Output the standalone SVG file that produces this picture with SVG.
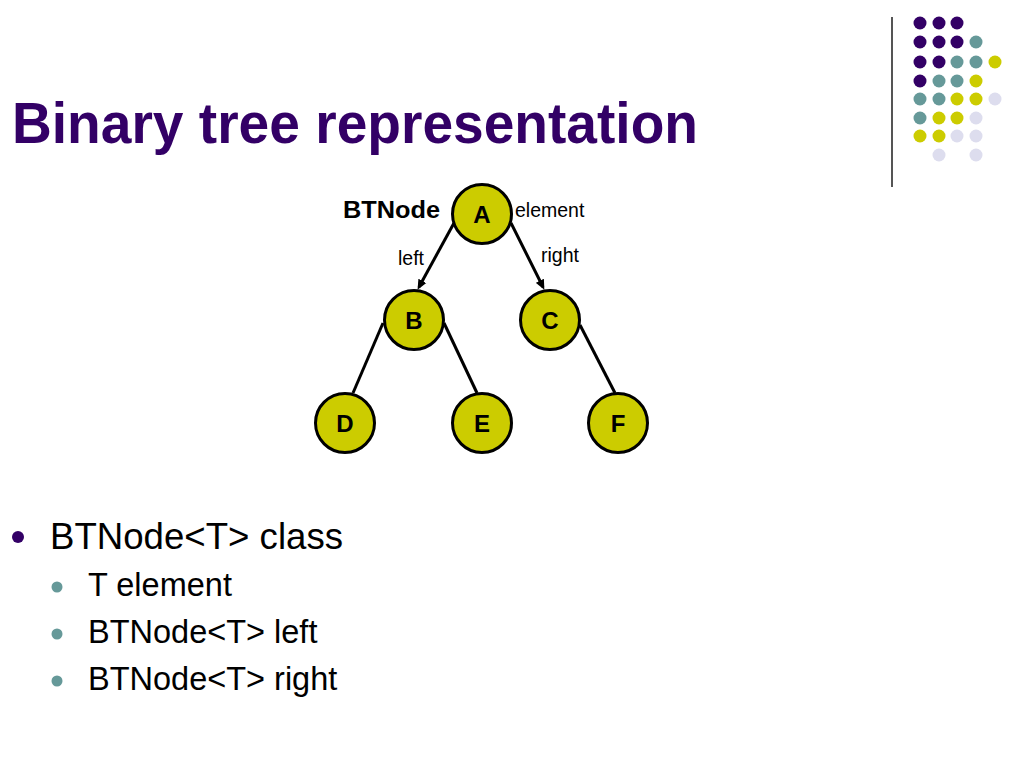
<svg xmlns="http://www.w3.org/2000/svg" width="1024" height="768" viewBox="0 0 1024 768">
<style>
.node{fill:#cccc00;stroke:#000;stroke-width:3}
.nl{font-family:"Liberation Sans",Arial,sans-serif;font-weight:bold;font-size:24px;text-anchor:middle;fill:#000}
.edge{stroke:#000;stroke-width:3;fill:none}
.lbl{font-family:"Liberation Sans",Arial,sans-serif;font-size:19.5px;fill:#000}
.p{fill:#330066}.t{fill:#669999}.y{fill:#cccc00}.l{fill:#ddddee}
.body{font-family:"Liberation Sans",Arial,sans-serif;fill:#000}
</style>
<defs>
<marker id="arr" markerWidth="10" markerHeight="10" refX="7" refY="5" orient="auto" markerUnits="userSpaceOnUse" viewBox="0 0 10 10">
<path d="M0,0.5 L10,5 L0,9.5 z" fill="#000"/>
</marker>
</defs>
<rect width="1024" height="768" fill="#fff"/>
<g id="decor">
<line x1="892" y1="17" x2="892" y2="187" stroke="#555" stroke-width="2"/>
<g>
<circle class="p" cx="920" cy="23" r="6.5"/><circle class="p" cx="939" cy="23" r="6.5"/><circle class="p" cx="957" cy="23" r="6.5"/>
<circle class="p" cx="920" cy="42" r="6.5"/><circle class="p" cx="939" cy="42" r="6.5"/><circle class="p" cx="957" cy="42" r="6.5"/><circle class="t" cx="976" cy="42" r="6.5"/>
<circle class="p" cx="920" cy="62" r="6.5"/><circle class="p" cx="939" cy="62" r="6.5"/><circle class="t" cx="957" cy="62" r="6.5"/><circle class="t" cx="976" cy="62" r="6.5"/><circle class="y" cx="995" cy="62" r="6.5"/>
<circle class="p" cx="920" cy="81" r="6.5"/><circle class="t" cx="939" cy="81" r="6.5"/><circle class="t" cx="957" cy="81" r="6.5"/><circle class="y" cx="976" cy="81" r="6.5"/>
<circle class="t" cx="920" cy="99" r="6.5"/><circle class="t" cx="939" cy="99" r="6.5"/><circle class="y" cx="957" cy="99" r="6.5"/><circle class="y" cx="976" cy="99" r="6.5"/><circle class="l" cx="995" cy="99" r="6.5"/>
<circle class="t" cx="920" cy="118" r="6.5"/><circle class="y" cx="939" cy="118" r="6.5"/><circle class="y" cx="957" cy="118" r="6.5"/><circle class="l" cx="976" cy="118" r="6.5"/>
<circle class="y" cx="920" cy="136" r="6.5"/><circle class="y" cx="939" cy="136" r="6.5"/><circle class="l" cx="957" cy="136" r="6.5"/><circle class="l" cx="976" cy="136" r="6.5"/>
<circle class="l" cx="939" cy="155" r="6.5"/><circle class="l" cx="976" cy="155" r="6.5"/>
</g>
</g>
<text id="title" x="12" y="143" font-family="Liberation Sans,Arial,sans-serif" font-weight="bold" font-size="57" textLength="686" lengthAdjust="spacingAndGlyphs" fill="#330066">Binary tree representation</text>
<g id="connectors">
<line class="edge" x1="454" y1="223" x2="419" y2="287" marker-end="url(#arr)"/>
<line class="edge" x1="511" y1="223" x2="543" y2="287" marker-end="url(#arr)"/>
<line class="edge" x1="383" y1="323" x2="353" y2="393"/>
<line class="edge" x1="444" y1="323" x2="477" y2="393"/>
<line class="edge" x1="580" y1="325" x2="615" y2="393"/>
</g>
<g id="labels">
<text x="343" y="218" font-family="Liberation Sans,Arial,sans-serif" font-weight="bold" font-size="24" textLength="97" lengthAdjust="spacingAndGlyphs">BTNode</text>
<text class="lbl" x="515" y="217">element</text>
<text class="lbl" x="398" y="265">left</text>
<text class="lbl" x="541" y="262">right</text>
</g>
<g id="node-A"><circle class="node" cx="482" cy="214" r="29.5"/><text class="nl" x="482" y="223">A</text></g>
<g id="node-B"><circle class="node" cx="414" cy="320" r="29.5"/><text class="nl" x="414" y="329">B</text></g>
<g id="node-C"><circle class="node" cx="550" cy="320" r="29.5"/><text class="nl" x="550" y="329">C</text></g>
<g id="node-D"><circle class="node" cx="345" cy="423" r="29.5"/><text class="nl" x="345" y="432">D</text></g>
<g id="node-E"><circle class="node" cx="482" cy="423" r="29.5"/><text class="nl" x="482" y="432">E</text></g>
<g id="node-F"><circle class="node" cx="618" cy="423" r="29.5"/><text class="nl" x="618" y="432">F</text></g>
<g id="bullets">
<circle class="p" cx="18" cy="537" r="6"/>
<text class="body" x="50" y="549" font-size="36" textLength="293" lengthAdjust="spacingAndGlyphs">BTNode&lt;T&gt; class</text>
<circle class="t" cx="57" cy="587" r="5.5"/>
<text class="body" x="88" y="596" font-size="32.5">T element</text>
<circle class="t" cx="57" cy="634" r="5.5"/>
<text class="body" x="88" y="643" font-size="32.5">BTNode&lt;T&gt; left</text>
<circle class="t" cx="57" cy="681" r="5.5"/>
<text class="body" x="88" y="690" font-size="32.5">BTNode&lt;T&gt; right</text>
</g>
</svg>
